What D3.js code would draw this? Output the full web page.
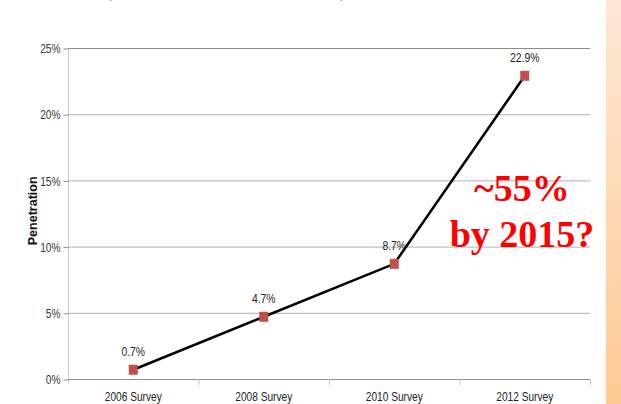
<!DOCTYPE html>
<html><head><meta charset="utf-8">
<script src="https://cdn.jsdelivr.net/npm/d3@7"></script>
<style>html,body{margin:0;padding:0;background:#fff;overflow:hidden}</style>
</head><body>
<script>
const categories = ["2006 Survey", "2008 Survey", "2010 Survey", "2012 Survey"];
const values = [0.7, 4.7, 8.7, 22.9];
const valueLabels = ["0.7%", "4.7%", "8.7%", "22.9%"];
const yTicks = [0, 5, 10, 15, 20, 25];
const annotation = ["~55%", "by 2015?"];
const yTitle = "Penetration";

const W = 621, H = 404;
const svg = d3.select("body").append("svg").attr("width", W).attr("height", H);

function condense(sel, f) {
  sel.each(function () {
    const len = this.getComputedTextLength();
    d3.select(this).attr("textLength", len * f).attr("lengthAdjust", "spacingAndGlyphs");
  });
}

const defs = svg.append("defs");
const g = defs.append("linearGradient").attr("id", "band").attr("x1", 0).attr("y1", 0).attr("x2", 0).attr("y2", 1);
g.append("stop").attr("offset", "0%").attr("stop-color", "#fde7d5");
g.append("stop").attr("offset", "100%").attr("stop-color", "#fdca94");
svg.append("rect").attr("x", 606).attr("y", 0).attr("width", 15).attr("height", H).attr("fill", "url(#band)");

// clipped title remnant at top (only its lowest strokes show, as in the reference)
svg.append("text").attr("x", 104).attr("y", -4).attr("font-family", "Liberation Serif")
  .attr("font-size", 24).attr("font-weight", "bold").attr("fill", "#a0101a")
  .text("(2006, 2008, 2010, 2012)");

const x = d3.scaleBand().domain(categories).range([68, 590]);
const y = d3.scaleLinear().domain([0, 25]).range([379, 48]);
const font = "'Liberation Sans', Arial, sans-serif";

// gridlines
svg.append("g").selectAll("line").data(yTicks.filter(d => d > 0)).join("line")
  .attr("x1", 68).attr("x2", 590).attr("y1", d => y(d) + 0.5).attr("y2", d => y(d) + 0.5)
  .attr("stroke", d => d === 25 ? "#8c8c8c" : "#b0b0b0").attr("stroke-width", 1);

// y axis
const ya = svg.append("g").attr("transform", "translate(68.5,0.5)")
  .call(d3.axisLeft(y).tickValues(yTicks).tickSize(5).tickFormat(d => d + "%"));
ya.select(".domain").attr("stroke", "#c8c8c8").attr("d", `M-0,${y(25)}V${y(0) + 4}`);
ya.selectAll(".tick line").attr("stroke", "#8c8c8c");
ya.selectAll(".tick text").attr("font-family", font).attr("font-size", 13).attr("fill", "#333").attr("x", -8)
  .call(condense, 0.78);

// x axis
const xa = svg.append("g").attr("transform", `translate(0,${y(0) + 0.5})`)
  .call(d3.axisBottom(x).tickSize(0).tickPadding(12));
xa.select(".domain").attr("stroke", "#8c8c8c").attr("d", `M68,0H590`);
xa.selectAll(".tick text").attr("font-family", font).attr("font-size", 13).attr("fill", "#222")
  .call(condense, 0.78);
svg.append("g").selectAll("line").data(categories).join("line")
  .attr("x1", d => x(d) + x.bandwidth() + 0.5).attr("x2", d => x(d) + x.bandwidth() + 0.5)
  .attr("y1", y(0)).attr("y2", y(0) + 6).attr("stroke", "#c8c8c8");

// y title
svg.append("text").attr("transform", `translate(37,${y(12.7)}) rotate(-90)`)
  .attr("text-anchor", "middle").attr("font-family", font)
  .attr("font-size", 12.5).attr("font-weight", "bold").attr("fill", "#111").text(yTitle);

// line
const pts = categories.map((c, i) => [x(c) + x.bandwidth() / 2, y(values[i])]);
svg.append("path").attr("d", d3.line()(pts)).attr("fill", "none").attr("stroke", "#000").attr("stroke-width", 2.5);

// markers
svg.append("g").selectAll("rect").data(pts).join("rect")
  .attr("x", d => d[0] - 4.5).attr("y", d => d[1] - 5).attr("width", 9).attr("height", 10)
  .attr("fill", "#c0504d");

// value labels
svg.append("g").selectAll("text").data(pts).join("text")
  .attr("x", d => d[0]).attr("y", d => d[1] - 14).attr("text-anchor", "middle")
  .attr("font-family", font).attr("font-size", 13).attr("fill", "#222")
  .text((d, i) => valueLabels[i])
  .call(condense, 0.8);

// annotation
svg.append("g").selectAll("text").data(annotation).join("text")
  .attr("x", 522).attr("y", (d, i) => 201 + i * 46).attr("text-anchor", "middle")
  .attr("font-family", "'Liberation Serif', 'Times New Roman', serif").attr("font-size", 38)
  .attr("font-weight", "bold").attr("fill", "#ff0000").text(d => d);
</script>
</body></html>
